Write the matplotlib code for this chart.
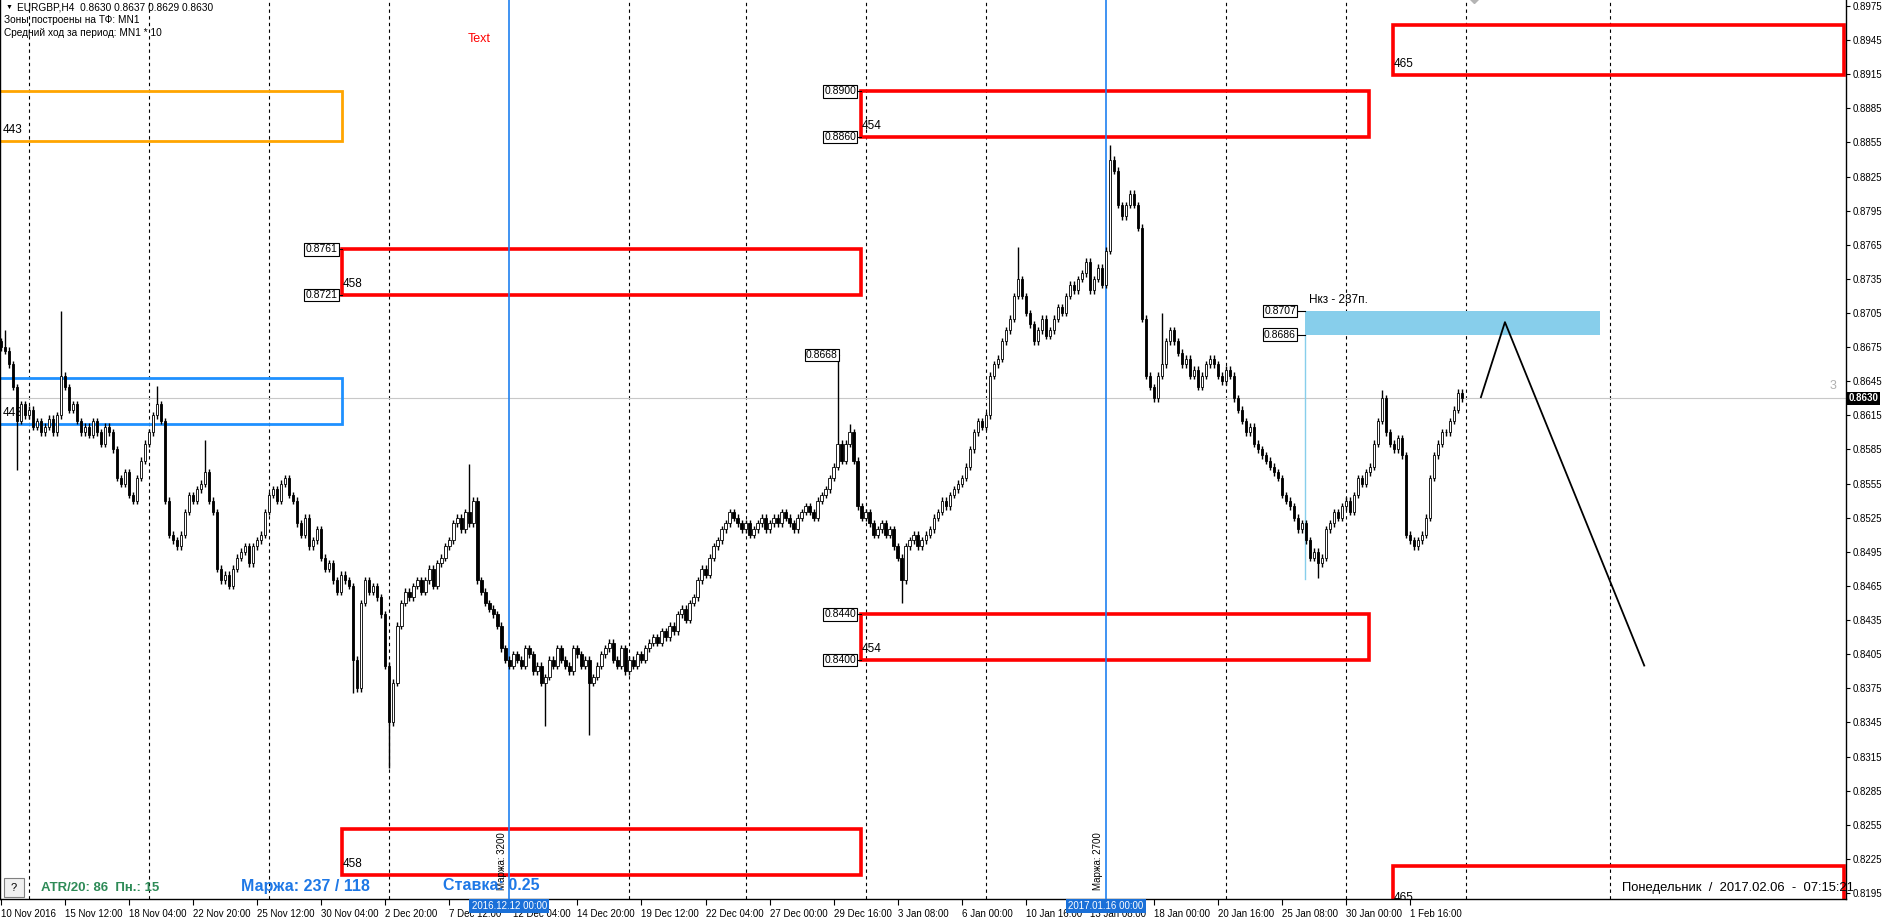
import numpy as np
import matplotlib
matplotlib.use('Agg')
import matplotlib.pyplot as plt
from matplotlib.patches import Rectangle
import matplotlib.transforms as mtransforms

plt.rcParams['font.family'] = ['Liberation Sans', 'DejaVu Sans']

# closes in pips above 0.8000, one per H4 bar
first_open = 680
closes = [675, 672, 660, 640, 610, 625, 615, 620, 605, 610, 600,
          605, 612, 600, 615, 650, 640,
          620, 625, 610, 600,
          605, 598, 610, 600, 590, 605, 600, 585,
          560, 555, 565, 545, 540, 560, 575,
          590, 600, 615, 625, 610,
          540, 510, 505, 500, 510,
          530, 545, 540, 550, 555, 565, 540, 530,
          480, 470, 475, 465, 480,
          490, 495, 500, 485, 500, 505, 510,
          530, 545, 550, 540, 555, 560, 545, 540,
          520, 510, 525, 500, 505, 515, 490, 480,
          485, 470, 460, 475, 470, 465,
          400, 375,
          450, 470, 460, 465, 455, 440,
          395, 345, 380,
          430, 450, 460, 455, 465, 470, 460,
          470, 480, 465, 485, 490, 500, 505,
          520, 525, 515, 530, 520, 540,
          470, 460, 450, 445, 440, 430,
          410, 400, 395, 405, 400, 395, 410,
          405, 390, 395, 380, 385, 400, 395, 410, 400,
          395, 390, 410, 405, 395, 400, 380, 385, 395,
          405, 410, 415, 400, 395, 410,
          390, 400, 395, 405, 400, 410, 415, 420, 415, 425,
          420, 430, 425, 440, 445, 435, 450, 455,
          470, 480, 475, 490, 500, 505, 515, 520,
          530, 525, 520, 515, 520, 510, 515, 520, 525,
          515, 520, 525, 520, 530, 525, 520, 515, 525, 530,
          535, 530, 525, 540, 545, 550, 560, 570,
          590,
          575, 590, 600, 575,
          535, 525, 530, 520, 510, 515, 520,
          510, 515, 500, 490,
          470,
          500, 505, 510, 500, 505, 510, 515,
          525, 530, 540, 535, 545, 550, 555, 560, 570,
          585, 600, 610, 605, 615, 650,
          660, 665, 680, 690, 700, 720,
          735, 720, 705,
          695, 680, 690, 700, 685, 690, 700, 710, 705,
          720, 730, 725, 735, 740, 750, 725, 735, 745,
          730, 760, 840,
          830, 800, 790, 800, 810, 800, 780,
          700, 650, 640,
          630, 650, 660, 680, 690,
          680, 670, 660, 665, 650, 655, 640, 650, 660,
          665, 660, 650, 645, 655, 650,
          630, 620, 610, 600, 605, 590, 585, 580,
          575, 570, 565, 560, 545, 540, 535,
          525, 515, 520, 505, 490, 495, 485, 490,
          515, 520, 530, 525, 535, 540, 530, 545,
          560, 555, 565, 570, 590, 610, 630,
          600, 590, 585, 595, 580,
          510, 505, 500, 505, 510,
          525, 560, 580, 590, 600,
          600, 610, 620, 635, 630]

# long wicks: bar -> (high, low) in pips
wick_ext = {1: (690, None), 4: (None, 567), 15: (707, None), 39: (641, None),
            51: (593, None), 88: (None, 371), 97: (None, 305), 117: (572, None),
            136: (None, 342), 147: (None, 334), 209: (668, None), 212: (607, None),
            225: (None, 450), 254: (763, None), 277: (853, None), 290: (705, None),
            329: (None, 472), 345: (637, None)}
typical_wick = 3  # pips, usual wick beyond the body

tick_bars = list(range(0, 353, 16))
tick_labels = ['10 Nov 2016', '15 Nov 12:00', '18 Nov 04:00', '22 Nov 20:00', '25 Nov 12:00',
               '30 Nov 04:00', '2 Dec 20:00', '7 Dec 12:00', '12 Dec 04:00', '14 Dec 20:00',
               '19 Dec 12:00', '22 Dec 04:00', '27 Dec 00:00', '29 Dec 16:00', '3 Jan 08:00',
               '6 Jan 00:00', '10 Jan 16:00', '13 Jan 08:00', '18 Jan 00:00', '20 Jan 16:00',
               '25 Jan 08:00', '30 Jan 00:00', '1 Feb 16:00']
week_bars = [7, 37, 67, 97, 157, 186, 216, 246, 306, 336, 366, 402]
marker_bars = [127, 276]
marker_dates = ['2016.12.12 00:00', '2017.01.16 00:00']
marker_notes = ['Маржа: 3200', 'Маржа: 2700']

# zones: left bar, right bar, top, bottom, colour, label
zones = [(-5, 85.2, 0.8900, 0.8856, '#ffa500', '443'),
         (-5, 85.2, 0.8648, 0.8607, '#1e90ff', '443'),
         (85.2, 214.8, 0.8761, 0.8721, '#ff0000', '458'),
         (214.8, 341.8, 0.8900, 0.8860, '#ff0000', '454'),
         (347.7, 460.3, 0.8958, 0.8914, '#ff0000', '465'),
         (214.8, 341.8, 0.8440, 0.8400, '#ff0000', '454'),
         (85.2, 214.8, 0.8251, 0.8211, '#ff0000', '458'),
         (347.7, 460.3, 0.8219, 0.8181, '#ff0000', '465')]
price_tags = [(84.0, 85.2, 0.8761), (84.0, 85.2, 0.8721),
              (213.6, 214.8, 0.8900), (213.6, 214.8, 0.8860),
              (213.6, 214.8, 0.8440), (213.6, 214.8, 0.8400),
              (209.0, 209.4, 0.8668),
              (323.5, 325.8, 0.8707), (323.5, 325.8, 0.8686)]
target_zone = (325.8, 399.5, 0.8707, 0.8686)
forecast_bars = [369.7, 375.7, 410.5]
forecast_prices = [0.8631, 0.8697, 0.8395]
last_price = 0.8630

W, H = 1888, 919
fig = plt.figure(figsize=(W / 100, H / 100), dpi=100)
ax = fig.add_axes([0, 20 / H, 1846 / W, 1 - 20 / H])
ax.set_xlim(-0.25, 460.9)
ax.set_ylim(0.81897, 0.89803)


def fpx(x, y):
    return x / W, 1 - y / H


# candles
opens = [first_open] + closes[:-1]
o = np.array(opens) / 10000 + 0.8
c = np.array(closes) / 10000 + 0.8
hi = np.maximum(o, c) + typical_wick / 10000
lo = np.minimum(o, c) - typical_wick / 10000
for b, (h, l) in wick_ext.items():
    if h is not None:
        hi[b] = h / 10000 + 0.8
    if l is not None:
        lo[b] = l / 10000 + 0.8
xs = np.arange(len(c))
ax.vlines(xs, lo, hi, color='black', lw=1, zorder=4)
body = np.maximum(np.abs(c - o), 0.00004)
face = ['white' if cc >= oo else 'black' for oo, cc in zip(o, c)]
ax.bar(xs, body, bottom=np.minimum(o, c), width=0.6, color=face,
       edgecolor='black', lw=0.6, zorder=5)

# week separators and markers
for b in week_bars:
    ax.axvline(b, color='black', ls=(0, (3, 3)), lw=0.8, zorder=1)
data_fig = mtransforms.blended_transform_factory(ax.transData, fig.transFigure)
blended = mtransforms.blended_transform_factory(ax.transData, ax.transAxes)
for b, d, note in zip(marker_bars, marker_dates, marker_notes):
    ax.axvline(b, color='#1f80f0', lw=1.2, zorder=3)
    fig.text(b, 1 - 906 / H, d, transform=data_fig, ha='center', va='center', color='white',
             fontsize=7, bbox=dict(boxstyle='square,pad=0.25', fc='#1a70d8', ec='none'),
             zorder=10)
    ax.text(b - 0.6, 0.0105, note, transform=blended, rotation=90, ha='right',
            va='bottom', fontsize=7, zorder=6)

# zones
for x0, x1, top, bot, col, lab in zones:
    ax.add_patch(Rectangle((x0, bot), x1 - x0, top - bot, fill=False, ec=col,
                           lw=2.6 if col == '#ff0000' else 2, zorder=2))
    ax.text(x0 + 0.2 if x0 > 0 else 0.3, bot + 0.00045, lab, fontsize=8.5,
            ha='left', va='bottom', zorder=2, clip_on=True)

for xb, xe, p in price_tags:
    ax.plot([xb, xe], [p, p], color='black', lw=0.8, zorder=6)
    ax.text(xb, p, '%.4f' % p, ha='right', va='center', fontsize=7.5, zorder=7,
            bbox=dict(boxstyle='square,pad=0.12', fc='white', ec='black', lw=0.8))

x0, x1, top, bot = target_zone
ax.add_patch(Rectangle((x0, bot), x1 - x0, top - bot, fc='#87ceeb', ec='none', zorder=2))
ax.plot([x0, x0], [bot, 0.8471], color='#87ceeb', lw=1, zorder=2)
ax.text(x0 + 1, top + 0.0004, 'Нкз - 237п.', fontsize=8.5, ha='left', va='bottom')

ax.plot(forecast_bars, forecast_prices, color='black', lw=1.3, zorder=6)
ax.axhline(last_price, color='#c8c8c8', lw=0.8, zorder=1)
ax.plot([368], [0.8982], marker='D', ms=5, color='#b4b4b4', zorder=3, clip_on=True)

# axes look
ax.spines['top'].set_visible(False)
for s in ['left', 'right', 'bottom']:
    ax.spines[s].set_color('black')
    ax.spines[s].set_linewidth(1)
ax.yaxis.tick_right()
ticks = np.round(np.arange(0.8195, 0.8976, 0.0030), 4)
ax.set_yticks(ticks)
ax.set_yticklabels(['%.4f' % t for t in ticks])
ax.tick_params(axis='y', length=3, width=0.8, labelsize=7, pad=2)
ax.set_xticks(tick_bars)
ax.set_xticklabels(tick_labels, ha='left')
ax.tick_params(axis='x', length=4, width=0.8, labelsize=7, pad=3)
right_data = mtransforms.blended_transform_factory(ax.transAxes, ax.transData)
ax.text(1.0015, last_price, '%.4f' % last_price, transform=right_data,
        ha='left', va='center', fontsize=7, color='white', fontweight='bold',
        bbox=dict(boxstyle='square,pad=0.15', fc='black', ec='none'), clip_on=False, zorder=10)
ax.text(0.995, last_price + 0.0006, '3', transform=right_data,
        ha='right', va='bottom', fontsize=9, color='#b0b0b0')

# overlay texts
fig.text(*fpx(6, 7), '\u25bc', fontsize=5, va='center', ha='left')
fig.text(*fpx(17, 7), 'EURGBP,H4  0.8630 0.8637 0.8629 0.8630', fontsize=7.3, va='center')
fig.text(*fpx(4, 20), 'Зоны построены на ТФ: MN1', fontsize=7.3, va='center')
fig.text(*fpx(4, 33), 'Средний ход за период: MN1 * 10', fontsize=7.3, va='center')
fig.text(*fpx(468, 39), 'Text', fontsize=9, color='red', va='center')

fig.patches.append(Rectangle(fpx(4, 897), 20 / W, 19 / H, transform=fig.transFigure,
                             fc='#f0f0f0', ec='#808080', lw=0.8))
fig.text(*fpx(14, 888), '?', fontsize=8, ha='center', va='center')
fig.text(*fpx(41, 888), 'ATR/20: 86  Пн.: 15', fontsize=9.5, fontweight='bold',
         color='#2e8b57', va='center')
fig.text(*fpx(241, 886), 'Маржа: 237 / 118', fontsize=11.5, fontweight='bold',
         color='#1e78e6', va='center')
fig.text(*fpx(443, 886), 'Ставка: 0.25', fontsize=11.5, fontweight='bold',
         color='#1e78e6', va='center')
fig.text(*fpx(1622, 888), 'Понедельник  /  2017.02.06  -  07:15:21', fontsize=9.4,
         va='center')

fig.savefig('out.png', dpi=100, facecolor='white')
